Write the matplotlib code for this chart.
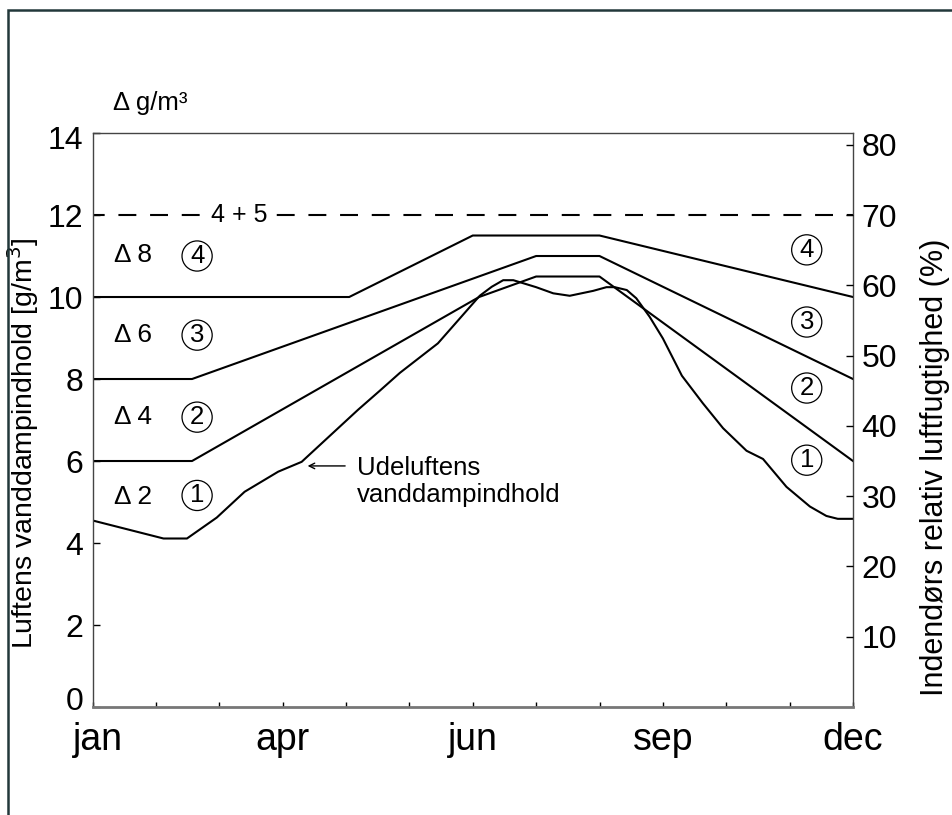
import matplotlib.pyplot as plt
from matplotlib.patches import Rectangle
from matplotlib.transforms import ScaledTranslation

plt.rcParams['font.family'] = ['Liberation Sans', 'DejaVu Sans']

# month index 0..12 (jan .. dec)
month_ticks = list(range(13))
month_labels = ['jan', '', '', 'apr', '', '', 'jun', '', '', 'sep', '', '', 'dec']

# outdoor water vapour content, g/m3
ude_x = [0, 1.12, 1.49, 1.96, 2.40, 2.93, 3.30, 4.19, 4.53, 4.85, 5.45, 6.11, 6.30,
         6.48, 6.64, 7.0, 7.27, 7.53, 7.90, 8.11, 8.24, 8.43, 8.58, 8.79, 9.0, 9.30,
         9.63, 9.95, 10.32, 10.58, 10.95, 11.32, 11.58, 11.76, 12.0]
ude_y = [4.55, 4.11, 4.11, 4.62, 5.25, 5.74, 5.98, 7.25, 7.71, 8.15, 8.87, 10.03, 10.25,
         10.41, 10.41, 10.24, 10.09, 10.03, 10.15, 10.24, 10.24, 10.17, 9.97, 9.52, 8.99, 8.08,
         7.41, 6.80, 6.25, 6.05, 5.37, 4.89, 4.66, 4.59, 4.59]

# indoor limit curves for humidity classes 1..4
klasse2_x = [0, 1.57, 6.1, 7.0, 8.0, 12]
klasse2_y = [6, 6, 10.0, 10.5, 10.5, 6]
klasse3_x = [0, 1.57, 7.0, 8.0, 12]
klasse3_y = [8, 8, 11, 11, 8]
klasse4_x = [0, 4.05, 6.0, 8.0, 12]
klasse4_y = [10, 10, 11.5, 11.5, 10]
klasse45_y = 12

delta_labels = ['\u0394 2', '\u0394 4', '\u0394 6', '\u0394 8']
delta_y = [5.12, 7.07, 9.07, 11.02]
circ_left_y = [5.16, 7.07, 9.07, 11.0]
circ_right_y = [6.02, 7.78, 9.39, 11.15]
rh_ticks = [10, 20, 30, 40, 50, 60, 70, 80]

fig = plt.figure(figsize=(9.52, 8.15), dpi=100)
ax = fig.add_axes([0.0972, 0.1325, 0.7988, 0.7043])

lw = 1.5
ax.plot(ude_x, ude_y, color='black', lw=lw)
ax.plot(klasse2_x, klasse2_y, color='black', lw=lw)
ax.plot(klasse3_x, klasse3_y, color='black', lw=lw)
ax.plot(klasse4_x, klasse4_y, color='black', lw=lw)
ax.plot([0, 12], [klasse45_y, klasse45_y], color='black', lw=1.5,
        linestyle=(3.0, (8.6, 6.6)))
ax.text(2.31, klasse45_y, '4 + 5', fontsize=18, ha='center', va='center',
        bbox=dict(fc='white', ec='none', pad=2))

ax.set_xlim(0, 12)
ax.set_ylim(0, 14)
ax.set_xticks(month_ticks)
ax.set_xticklabels(month_labels, fontsize=27)
ax.set_yticks(range(0, 15, 2))
ax.tick_params(axis='y', labelsize=23, direction='in', length=5, width=1, pad=6.5)
ax.tick_params(axis='x', direction='in', length=3.5, width=1, pad=10.5)
ax.set_ylabel('Luftens vanddampindhold [g/m$^3$]', fontsize=20.5)
ax.yaxis.set_label_coords(-0.068, 0.46)

# end tick labels kept inside the axis range, as in the original
ylabs = ax.get_yticklabels()
ylabs[0].set_transform(ylabs[0].get_transform() + ScaledTranslation(0, 9 / 100, fig.dpi_scale_trans))
ylabs[-1].set_transform(ylabs[-1].get_transform() + ScaledTranslation(0, -4 / 100, fig.dpi_scale_trans))
xlabs = ax.get_xticklabels()
xlabs[0].set_transform(xlabs[0].get_transform() + ScaledTranslation(5 / 100, 0, fig.dpi_scale_trans))

for lab, yy in zip(delta_labels, delta_y):
    ax.text(0.64, yy, lab, fontsize=19, ha='center', va='center')
for i, yy in enumerate(circ_left_y):
    ax.text(1.65, yy, str(i + 1), fontsize=18.5, ha='center', va='center',
            bbox=dict(boxstyle='circle,pad=0.12', fc='none', ec='black', lw=0.9))
for i, yy in enumerate(circ_right_y):
    ax.text(11.27, yy, str(i + 1), fontsize=18.5, ha='center', va='center',
            bbox=dict(boxstyle='circle,pad=0.12', fc='none', ec='black', lw=0.9))

ax.annotate('', xy=(3.35, 5.88), xytext=(4.03, 5.88),
            arrowprops=dict(arrowstyle='->', lw=1.0, color='black'))
ax.text(4.17, 5.5, 'Udeluftens\nvanddampindhold', fontsize=18.5, ha='left', va='center')

ax.text(0.32, 14.73, '\u0394 g/m\u00b3', fontsize=18.5, ha='left', va='center', clip_on=False)

for s in ['left', 'top', 'right']:
    ax.spines[s].set_color('#444444')
    ax.spines[s].set_linewidth(1.0)
ax.spines['bottom'].set_color('#777777')
ax.spines['bottom'].set_linewidth(2.0)

# right axis: indoor relative humidity
ax2 = ax.twinx()
ax2.set_ylim(0, 14 * 70 / 12)
ax2.set_yticks(rh_ticks)
ax2.tick_params(axis='y', labelsize=23, direction='in', length=5, width=1, pad=6.3)
ax2.set_ylabel('Indendørs relativ luftfugtighed (%)', fontsize=22)
ax2.yaxis.set_label_coords(1.088, 0.418)
for s in ax2.spines.values():
    s.set_visible(False)

# outer frame
fig.patches.append(Rectangle((8 / 952, -0.05), 1.2, 1 - 10 / 815 + 0.05,
                             transform=fig.transFigure, fill=False,
                             ec='#22383a', lw=1.8))

fig.savefig('out.png', dpi=100)
